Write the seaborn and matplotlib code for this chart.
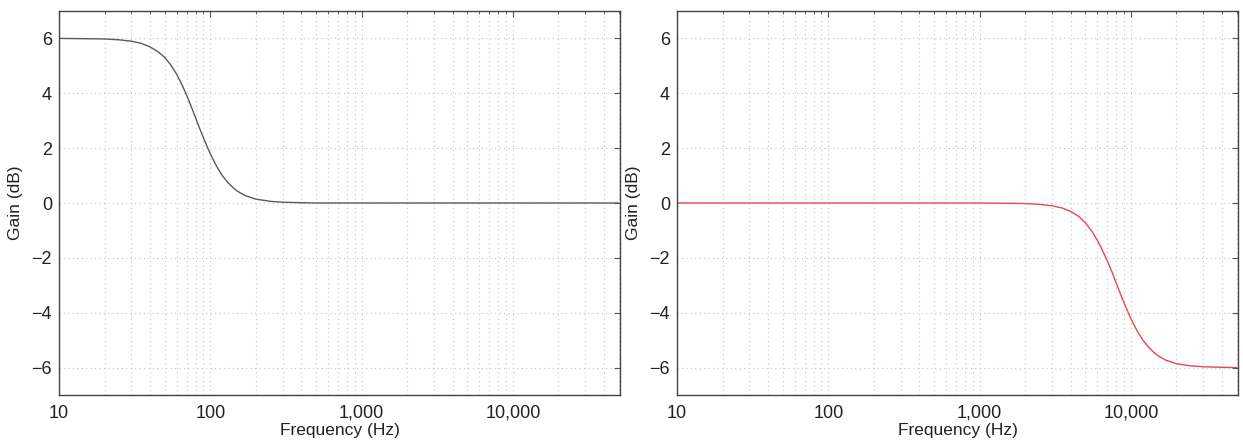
import numpy as np
import pandas as pd
import matplotlib
matplotlib.use("Agg")
import matplotlib.pyplot as plt
import seaborn as sns
from matplotlib.ticker import FixedLocator, LogLocator, NullFormatter

# ---- data ----
low_freq = [10, 15, 20, 25, 30, 35, 40, 45, 50, 55, 60, 65, 70, 75, 80, 85, 90,
            100, 110, 120, 130, 140, 150, 170, 200, 250, 300, 400, 500, 1000,
            5000, 50000]
low_gain = [6.00, 5.99, 5.98, 5.95, 5.90, 5.82, 5.69, 5.52, 5.31, 5.02, 4.69,
            4.31, 3.91, 3.50, 3.10, 2.72, 2.38, 1.79, 1.34, 1.00, 0.76, 0.58,
            0.44, 0.27, 0.14, 0.06, 0.03, 0.01, 0.00, 0.00, 0.00, 0.00]

high_freq = [10, 100, 1000, 1500, 2000, 2500, 3000, 3500, 4000, 4500, 5000,
             5500, 6000, 6500, 7000, 7500, 8000, 8500, 9000, 10000, 11000,
             12000, 13000, 14000, 15000, 17000, 20000, 25000, 30000, 40000,
             50000]
high_gain = [0.00, 0.00, 0.00, -0.01, -0.02, -0.05, -0.10, -0.18, -0.31, -0.48,
             -0.72, -1.02, -1.36, -1.74, -2.12, -2.52, -2.92, -3.30, -3.64,
             -4.22, -4.67, -5.00, -5.24, -5.42, -5.56, -5.73, -5.86, -5.94,
             -5.97, -5.99, -6.00]

x_ticks = [10, 100, 1000, 10000]
x_tick_labels = ["10", "100", "1,000", "10,000"]
y_ticks = [-6, -4, -2, 0, 2, 4, 6]

sns.set_style("white")
plt.rcParams['font.family'] = ['Liberation Sans', 'DejaVu Sans']

fig = plt.figure(figsize=(12.43, 4.41), dpi=100)
W, H = 1243, 441
ax1 = fig.add_axes([59 / W, (H - 395) / H, 561 / W, 384 / H])
ax2 = fig.add_axes([677 / W, (H - 395) / H, 561 / W, 384 / H])

df_low = pd.DataFrame({"Frequency": low_freq, "Gain": low_gain})
df_high = pd.DataFrame({"Frequency": high_freq, "Gain": high_gain})

sns.lineplot(data=df_low, x="Frequency", y="Gain", ax=ax1, color="#5a5a5a", lw=1.0)
sns.lineplot(data=df_high, x="Frequency", y="Gain", ax=ax2, color="#e04a52", lw=1.0)

grid_kw = dict(color="#c4c4c4", linestyle=(0, (1, 3)), lw=0.8)
for ax in (ax1, ax2):
    ax.set_xscale("log")
    ax.set_xlim(10, 51000)
    ax.set_ylim(-7, 7)
    ax.xaxis.set_major_locator(FixedLocator(x_ticks))
    ax.set_xticklabels(x_tick_labels)
    ax.xaxis.set_minor_locator(LogLocator(base=10, subs=np.arange(2, 10)))
    ax.xaxis.set_minor_formatter(NullFormatter())
    ax.set_yticks(y_ticks)
    ax.set_yticklabels([str(v).replace("-", "\u2212") for v in y_ticks])
    ax.grid(True, which="major", axis="both", **grid_kw)
    ax.grid(True, which="minor", axis="x", **grid_kw)
    ax.tick_params(which="both", direction="in", top=True, right=True, colors="#555555",
                   labelcolor="#222222", labelsize=13)
    ax.tick_params(which="major", length=4, width=0.8)
    ax.tick_params(which="minor", length=2, width=0.6)
    ax.tick_params(axis="x", which="major", pad=7)
    ax.tick_params(axis="y", which="major", pad=5)
    for s in ax.spines.values():
        s.set_color("#444444")
        s.set_linewidth(1.0)
    ax.set_xlabel("Frequency (Hz)", fontsize=12.5, labelpad=1, color="#222222")
    ax.set_ylabel("Gain (dB)", fontsize=12.5, labelpad=6, color="#222222")

fig.savefig("out.png", dpi=100)
